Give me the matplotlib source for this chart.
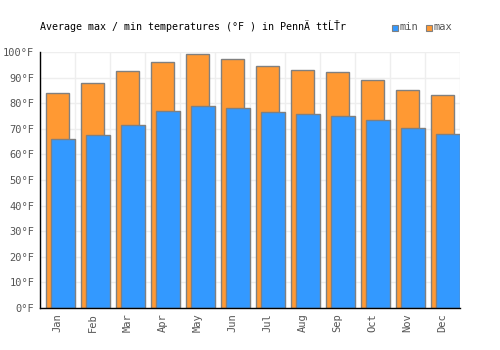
import matplotlib
matplotlib.use("Agg")
import matplotlib.pyplot as plt
import numpy as np
from matplotlib.patches import Rectangle

months = ["Jan", "Feb", "Mar", "Apr", "May", "Jun", "Jul", "Aug", "Sep", "Oct", "Nov", "Dec"]
max_temps = [84.0, 87.8, 92.5, 96.0, 99.1, 97.1, 94.4, 92.8, 92.1, 88.9, 85.0, 83.1]
min_temps = [66.1, 67.7, 71.4, 76.8, 78.8, 78.0, 76.4, 75.7, 74.9, 73.3, 70.2, 67.8]
yticks = list(range(0, 101, 10))
title = "Average max / min temperatures (°F ) in PennÄ ttĹŤr"

BLUE = "#3399ff"
ORANGE = "#ff9933"
EDGE = "#808080"
FONT = ["DejaVu Sans Mono"]

fig = plt.figure(figsize=(5, 3.5), dpi=100)
ax = fig.add_axes([0.08, 0.12, 0.84, 0.7314])

x = np.arange(len(months))
w = 0.66
ax.bar(x + 0.01, max_temps, width=w, color=ORANGE, edgecolor=EDGE, linewidth=1.0, zorder=2)
ax.bar(x + 0.16, min_temps, width=0.68, color=BLUE, edgecolor=EDGE, linewidth=1.0, zorder=3)

ax.set_xlim(-0.5, len(months) - 0.5)
ax.set_ylim(0, 100)
ax.set_yticks(yticks)
ax.set_yticklabels([f"{v}°F" for v in yticks], fontfamily=FONT, fontsize=7.5, color="#555555")
ax.set_xticks(x)
ax.set_xticklabels(months, rotation=90, fontfamily=FONT, fontsize=7.5, color="#555555")
ax.tick_params(length=0, pad=4)

ax.set_xticks(np.arange(-0.5, len(months) + 0.5, 1), minor=True)
ax.tick_params(which="minor", length=0)
ax.grid(which="minor", axis="x", color="#eeeeee", linewidth=1, zorder=0)
ax.grid(which="major", axis="y", color="#eeeeee", linewidth=1, zorder=0)
ax.set_axisbelow(True)

for s in ["top", "right"]:
    ax.spines[s].set_visible(False)
for s in ["left", "bottom"]:
    ax.spines[s].set_color("black")
    ax.spines[s].set_linewidth(1.0)
    ax.spines[s].set_zorder(5)

fig.text(0.08, 0.925, title, fontfamily=FONT, fontsize=7.2, color="black", ha="left", va="center")

# legend
for xpos, col, lab in [(0.784, BLUE, "min"), (0.852, ORANGE, "max")]:
    fig.patches.append(Rectangle((xpos, 0.912), 0.011, 0.0157, transform=fig.transFigure,
                                 facecolor=col, edgecolor=EDGE, linewidth=0.8))
    fig.text(xpos + 0.015, 0.922, lab, fontfamily=FONT, fontsize=7.5, color="#555555",
             ha="left", va="center")

fig.savefig("out.png", dpi=100)
